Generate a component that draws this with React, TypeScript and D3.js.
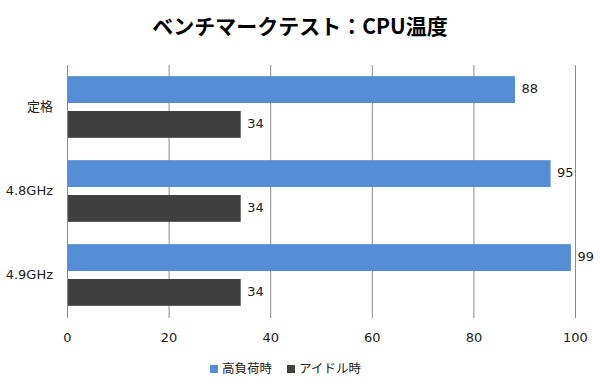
import * as d3 from "d3";

const categories = ["定格", "4.8GHz", "4.9GHz"];
const seriesNames = ["高負荷時", "アイドル時"];
const highLoad = [88, 95, 99];
const idle = [34, 34, 34];
const xTicks = [0, 20, 40, 60, 80, 100];
const colors = ["#558ED5", "#404040"];

const W = 600;
const H = 390;
const font = "'Noto Sans CJK JP', 'Noto Sans', sans-serif";
const labelFont = "'DejaVu Sans', 'Noto Sans CJK JP', sans-serif";

const App = () => {
  const left = 67.5;
  const right = 575.5;
  const top = 65;
  const bottom = 317;

  const x = d3.scaleLinear().domain([0, 100]).range([left, right]);
  const y = d3.scaleBand().domain(categories).range([top, bottom]).paddingInner(0).paddingOuter(0);
  // inside each category: two bars, ~27px high, 8px apart
  const inner = d3.scaleBand().domain(seriesNames).range([0, y.bandwidth()]).paddingInner(0.23).paddingOuter(0.32);

  const series = [highLoad, idle];

  return (
    <svg width={W} height={H} style={{ display: "block", position: "absolute", left: 0, top: 0, background: "#fff" }}>
      <text x={300} y={34} textAnchor="middle" fontFamily={font} fontWeight="bold" fontSize={21} fill="#000">
        ベンチマークテスト：CPU温度
      </text>

      {xTicks.map((t) => (
        <line key={t} x1={x(t)} x2={x(t)} y1={top} y2={bottom + 1} stroke="#8c8c8c" strokeWidth={1} />
      ))}

      {categories.map((c, i) => (
        <g key={c}>
          <text x={53} y={(y(c) ?? 0) + y.bandwidth() / 2} textAnchor="end" dominantBaseline="middle" fontFamily={labelFont} fontSize={13} fill="#222">
            {c}
          </text>
          {seriesNames.map((s, j) => {
            const v = series[j][i];
            const by = (y(c) ?? 0) + (inner(s) ?? 0);
            return (
              <g key={s}>
                <rect x={x(0) + 0.5} y={by} width={x(v) - x(0)} height={inner.bandwidth()} fill={colors[j]} />
                <text x={x(v) + 7} y={by + inner.bandwidth() / 2} dominantBaseline="middle" fontFamily={labelFont} fontSize={13} fill="#222">
                  {v}
                </text>
              </g>
            );
          })}
        </g>
      ))}

      {xTicks.map((t) => (
        <text key={t} x={x(t)} y={338} textAnchor="middle" dominantBaseline="middle" fontFamily={labelFont} fontSize={13} fill="#222">
          {t}
        </text>
      ))}

      <g>
        <rect x={210} y={365} width={8} height={8} fill={colors[0]} />
        <text x={222} y={369.5} dominantBaseline="middle" fontFamily={font} fontSize={12.5} fill="#222">
          {seriesNames[0]}
        </text>
        <rect x={287} y={365} width={8} height={8} fill={colors[1]} />
        <text x={299} y={369.5} dominantBaseline="middle" fontFamily={font} fontSize={12.5} fill="#222">
          {seriesNames[1]}
        </text>
      </g>
    </svg>
  );
};

export default App;
